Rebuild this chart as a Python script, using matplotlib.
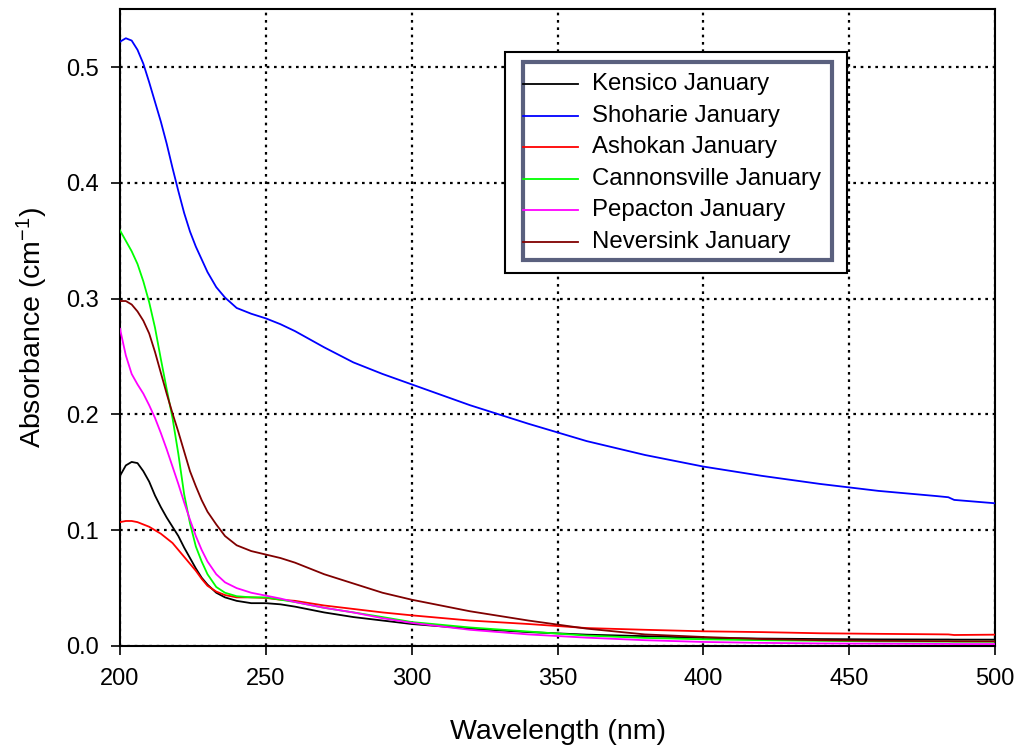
import matplotlib
matplotlib.use("Agg")
import matplotlib.pyplot as plt
from matplotlib.patches import Rectangle
from matplotlib.lines import Line2D

plt.rcParams['font.family'] = ['Liberation Sans', 'DejaVu Sans']
plt.rcParams['mathtext.default'] = 'regular'

wavelength = [200, 202, 204, 206, 208, 210, 212, 214, 216, 218, 220, 222, 224, 226,
              228, 230, 233, 236, 240, 245, 250, 255, 260, 270, 280, 290, 300, 320,
              340, 360, 380, 400, 420, 440, 460, 480, 484, 486, 500]

kensico = [0.147, 0.156, 0.159, 0.158, 0.151, 0.142, 0.130, 0.120, 0.111, 0.103, 0.095,
           0.085, 0.076, 0.067, 0.059, 0.053, 0.046, 0.042, 0.039, 0.037, 0.037, 0.036,
           0.034, 0.029, 0.025, 0.022, 0.019, 0.015, 0.012, 0.0098, 0.0085, 0.0070,
           0.0064, 0.0060, 0.0057, 0.0056, 0.0056, 0.0055, 0.0055]
shoharie = [0.522, 0.525, 0.523, 0.515, 0.503, 0.487, 0.470, 0.453, 0.434, 0.413, 0.393,
            0.374, 0.358, 0.345, 0.334, 0.323, 0.310, 0.301, 0.292, 0.287, 0.283, 0.278,
            0.272, 0.258, 0.245, 0.235, 0.226, 0.208, 0.192, 0.177, 0.165, 0.155, 0.147,
            0.140, 0.134, 0.1295, 0.1285, 0.1262, 0.1233]
ashokan = [0.107, 0.108, 0.108, 0.107, 0.105, 0.103, 0.100, 0.097, 0.093, 0.089, 0.083,
           0.077, 0.071, 0.065, 0.058, 0.052, 0.047, 0.044, 0.042, 0.042, 0.0415, 0.040,
           0.039, 0.035, 0.032, 0.029, 0.0265, 0.022, 0.019, 0.0155, 0.014, 0.0127,
           0.012, 0.011, 0.0105, 0.0101, 0.0100, 0.0095, 0.0098]
cannonsville = [0.359, 0.350, 0.341, 0.330, 0.315, 0.297, 0.275, 0.248, 0.222, 0.197,
                0.166, 0.131, 0.106, 0.086, 0.073, 0.062, 0.051, 0.046, 0.043, 0.042,
                0.042, 0.040, 0.038, 0.033, 0.029, 0.025, 0.0207, 0.016, 0.0125, 0.009,
                0.007, 0.0058, 0.005, 0.0045, 0.0040, 0.0038, 0.0038, 0.0037, 0.0037]
pepacton = [0.274, 0.251, 0.235, 0.226, 0.218, 0.208, 0.197, 0.184, 0.170, 0.155, 0.140,
            0.124, 0.109, 0.095, 0.083, 0.073, 0.062, 0.055, 0.050, 0.046, 0.0435, 0.041,
            0.038, 0.033, 0.029, 0.024, 0.020, 0.014, 0.010, 0.0072, 0.005, 0.0035,
            0.0027, 0.0022, 0.0020, 0.0018, 0.0018, 0.0017, 0.0017]
neversink = [0.298, 0.298, 0.295, 0.289, 0.281, 0.270, 0.254, 0.236, 0.218, 0.201, 0.185,
             0.168, 0.151, 0.138, 0.126, 0.116, 0.105, 0.095, 0.087, 0.082, 0.079, 0.076,
             0.072, 0.062, 0.054, 0.046, 0.040, 0.030, 0.022, 0.015, 0.010, 0.0078,
             0.006, 0.005, 0.0045, 0.0042, 0.0042, 0.0041, 0.0040]

labels = ['Kensico January', 'Shoharie January', 'Ashokan January',
          'Cannonsville January', 'Pepacton January', 'Neversink January']
series = [kensico, shoharie, ashokan, cannonsville, pepacton, neversink]
colors = ['#000000', '#0000ff', '#ff0000', '#00ff00', '#ff00ff', '#800000']

x_ticks = [200, 250, 300, 350, 400, 450, 500]
y_ticks = [0.0, 0.1, 0.2, 0.3, 0.4, 0.5]

fig = plt.figure(figsize=(10.17, 7.51), dpi=100)
ax = fig.add_axes([120 / 1017, 105 / 751, 875 / 1017, 636.7 / 751])

for vals, c, lab in zip(series, colors, labels):
    ax.plot(wavelength, vals, color=c, lw=1.3, label=lab, zorder=3)

ax.set_xlim(200, 500)
ax.set_ylim(0, 0.55)
ax.set_xticks(x_ticks)
ax.set_yticks(y_ticks)
ax.set_xticklabels([str(t) for t in x_ticks])
ax.set_yticklabels(['%.1f' % t for t in y_ticks])
ax.tick_params(direction='out', length=6.5, width=1.2, labelsize=17, pad=9,
               top=False, right=False)
ax.grid(True, color='black', linestyle=(0, (1.2, 2.1)), lw=1.6, zorder=1)
for s in ax.spines.values():
    s.set_linewidth(1.5)

ax.set_xlabel('Wavelength (nm)', fontsize=20.5, labelpad=21)
ax.set_ylabel('Absorbance (cm$^{-1}$)', fontsize=20.5, labelpad=11)

# legend boxes
ax.add_patch(Rectangle((0.44, 0.586), 0.391, 0.347, transform=ax.transAxes,
                       facecolor='white', edgecolor='black', lw=1.5, zorder=5))
ax.add_patch(Rectangle((0.4606, 0.606), 0.3531, 0.311, transform=ax.transAxes,
                       facecolor='white', edgecolor='#5a607e', lw=3, zorder=6))
row_y = 0.8827
for c, lab in zip(colors, labels):
    ax.add_line(Line2D([0.4606, 0.5234], [row_y, row_y], transform=ax.transAxes,
                       color=c, lw=1.3, zorder=7))
    ax.text(0.5394, row_y, lab, transform=ax.transAxes, fontsize=17.3,
            va='center', ha='left', zorder=7)
    row_y -= 0.0495

fig.savefig('out.png', dpi=100)
